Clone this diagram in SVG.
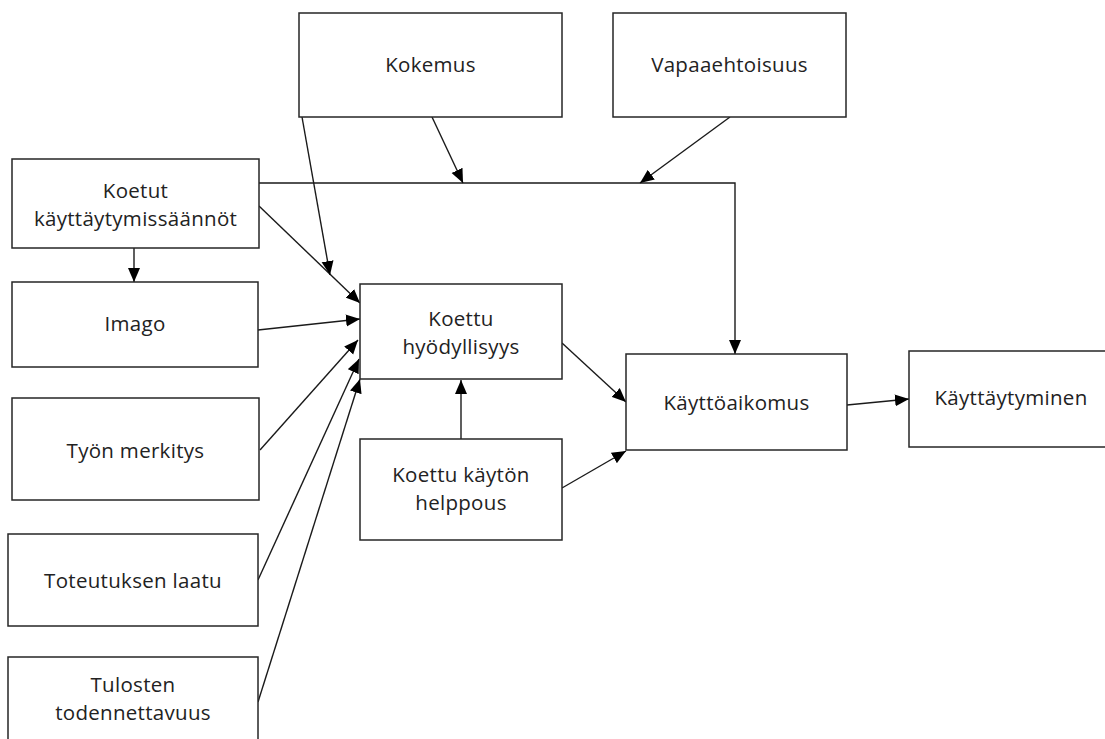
<svg xmlns="http://www.w3.org/2000/svg" width="1105" height="739" viewBox="0 0 1105 739">
  <style>
    .box { fill: #ffffff; stroke: #262626; stroke-width: 1.5; }
    .lbl { font-family: "Open Sans", "Noto Sans", sans-serif; font-size: 20.5px; letter-spacing: 0.3px; fill: #222222; text-anchor: middle; dominant-baseline: central; }
    .edge { fill: none; stroke: #1a1a1a; stroke-width: 1.4; }
  </style>
  <defs>
    <marker id="arrow" markerUnits="userSpaceOnUse" markerWidth="15" markerHeight="13" refX="14" refY="6.5" orient="auto">
      <path d="M0,0.5 L14,6.5 L0,12.5 Z" fill="#000000"/>
    </marker>
  </defs>
  <rect width="1105" height="739" fill="#ffffff"/>

  <!-- connectors -->
  <g id="connectors">
    <line class="edge" x1="134" y1="248" x2="134" y2="282" marker-end="url(#arrow)"/>
    <line class="edge" x1="259" y1="206" x2="360" y2="303" marker-end="url(#arrow)"/>
    <polyline class="edge" points="259,183 735,183 735,354" marker-end="url(#arrow)"/>
    <line class="edge" x1="302" y1="117" x2="330" y2="275" marker-end="url(#arrow)"/>
    <line class="edge" x1="432" y1="117" x2="463" y2="183" marker-end="url(#arrow)"/>
    <line class="edge" x1="730" y1="117" x2="640" y2="183" marker-end="url(#arrow)"/>
    <line class="edge" x1="258" y1="330" x2="360" y2="319" marker-end="url(#arrow)"/>
    <line class="edge" x1="260" y1="450" x2="358" y2="340" marker-end="url(#arrow)"/>
    <line class="edge" x1="258" y1="580" x2="359" y2="359" marker-end="url(#arrow)"/>
    <line class="edge" x1="258" y1="702" x2="360" y2="379" marker-end="url(#arrow)"/>
    <line class="edge" x1="461" y1="439" x2="461" y2="380" marker-end="url(#arrow)"/>
    <line class="edge" x1="562" y1="343" x2="626" y2="402" marker-end="url(#arrow)"/>
    <line class="edge" x1="562" y1="488" x2="626" y2="451" marker-end="url(#arrow)"/>
    <line class="edge" x1="847" y1="405" x2="909" y2="399" marker-end="url(#arrow)"/>
  </g>

  <!-- nodes -->
  <g id="kokemus">
    <rect class="box" x="299" y="13" width="263" height="104"/>
    <text class="lbl" x="430.5" y="64">Kokemus</text>
  </g>
  <g id="vapaaehtoisuus">
    <rect class="box" x="613" y="13" width="233" height="104"/>
    <text class="lbl" x="729.5" y="64">Vapaaehtoisuus</text>
  </g>
  <g id="koetut-kayttaytymissaannot">
    <rect class="box" x="12" y="159" width="247" height="89"/>
    <text class="lbl" x="135.5" y="190">Koetut</text>
    <text class="lbl" x="135.5" y="218">käyttäytymissäännöt</text>
  </g>
  <g id="imago">
    <rect class="box" x="12" y="282" width="246" height="85"/>
    <text class="lbl" x="135" y="323">Imago</text>
  </g>
  <g id="tyon-merkitys">
    <rect class="box" x="12" y="398" width="247" height="102"/>
    <text class="lbl" x="135.5" y="450">Työn merkitys</text>
  </g>
  <g id="toteutuksen-laatu">
    <rect class="box" x="8" y="534" width="250" height="92"/>
    <text class="lbl" x="133" y="580">Toteutuksen laatu</text>
  </g>
  <g id="tulosten-todennettavuus">
    <rect class="box" x="8" y="657" width="250" height="100"/>
    <text class="lbl" x="133" y="684">Tulosten</text>
    <text class="lbl" x="133" y="712">todennettavuus</text>
  </g>
  <g id="koettu-hyodyllisyys">
    <rect class="box" x="360" y="284" width="202" height="95"/>
    <text class="lbl" x="461" y="318">Koettu</text>
    <text class="lbl" x="461" y="346">hyödyllisyys</text>
  </g>
  <g id="koettu-kayton-helppous">
    <rect class="box" x="360" y="439" width="202" height="101"/>
    <text class="lbl" x="461" y="474">Koettu käytön</text>
    <text class="lbl" x="461" y="502">helppous</text>
  </g>
  <g id="kayttoaikomus">
    <rect class="box" x="626" y="354" width="221" height="96"/>
    <text class="lbl" x="736.5" y="402">Käyttöaikomus</text>
  </g>
  <g id="kayttaytyminen">
    <rect class="box" x="909" y="351" width="210" height="96"/>
    <text class="lbl" x="1011" y="397">Käyttäytyminen</text>
  </g>
</svg>
